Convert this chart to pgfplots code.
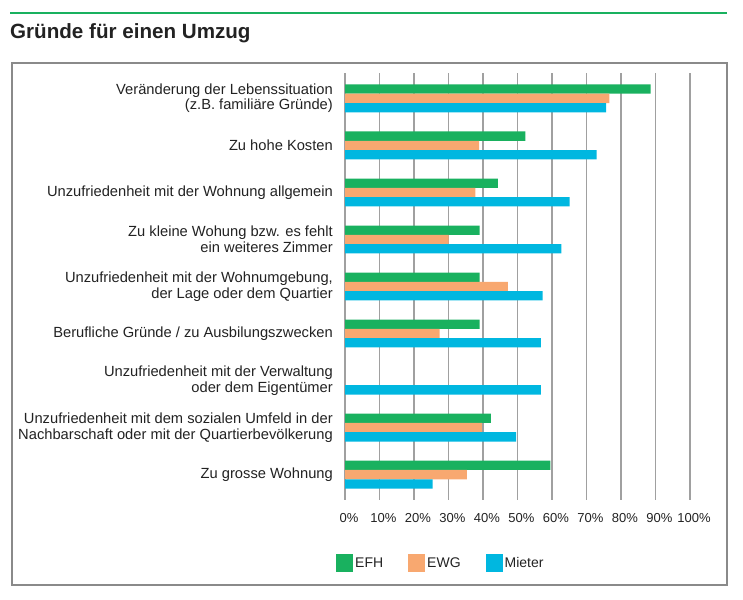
\documentclass[border=0pt]{standalone}
\usepackage{fontspec}
\setmainfont{Liberation Sans}
\usepackage{pgfplots}
\pgfplotsset{compat=1.18}
\definecolor{efh}{HTML}{19B15F}
\definecolor{ewg}{HTML}{F8A870}
\definecolor{mieter}{HTML}{00B7E0}
\definecolor{textc}{HTML}{222222}
\definecolor{boxc}{HTML}{8A8A8A}
\definecolor{gridc}{HTML}{A0A0A0}
\begin{document}
\begin{tikzpicture}
\path[use as bounding box] (0bp,0bp) rectangle (743bp,-600bp);
\draw[efh, line width=2.5bp] (10bp,-13bp) -- (727bp,-13bp);
\node[anchor=west, inner sep=0pt, font=\bfseries\fontsize{20.6bp}{24bp}\selectfont, text=textc] at (10bp,-33bp) {Gründe für einen Umzug};
\draw[boxc, line width=1.2bp] (12bp,-63bp) rectangle (727bp,-585bp);
\begin{axis}[
  at={(345bp,-500bp)}, anchor=south west,
  scale only axis, width=345bp, height=427bp,
  xmin=0, xmax=100, ymin=0.46, ymax=9.54, y dir=reverse,
  xbar=0pt, bar width=9.3bp,
  axis line style={draw=none}, major tick length=0pt, tick style={draw=none},
  xmajorgrids, grid style={gridc, line width=1.2bp},
  xtick={0,10,...,100},
  xticklabel={\pgfmathprintnumber{\tick}\%},
  /pgf/number format/assume math mode=true,
  xticklabel style={font=\fontsize{13bp}{15bp}\selectfont, text=textc, anchor=center, yshift=-18bp, xshift=4bp},
  ytick={1,...,9},
  yticklabels={
    {Veränderung der Lebenssituation\\(z.B. familiäre Gründe)},
    {Zu hohe Kosten},
    {Unzufriedenheit mit der Wohnung allgemein},
    {Zu kleine Wohung bzw. es fehlt\\ein weiteres Zimmer},
    {Unzufriedenheit mit der Wohnumgebung,\\der Lage oder dem Quartier},
    {Berufliche Gründe / zu Ausbilungszwecken},
    {Unzufriedenheit mit der Verwaltung\\oder dem Eigentümer},
    {Unzufriedenheit mit dem sozialen Umfeld in der\\Nachbarschaft oder mit der Quartierbevölkerung},
    {Zu grosse Wohnung}},
  yticklabel style={font=\fontsize{14.7bp}{15.5bp}\selectfont, text=textc, align=right, anchor=east, inner sep=0pt, xshift=-12bp},
  legend style={at={(-0.026,-0.1475)}, anchor=west, legend columns=3, draw=none, fill=none, inner sep=0pt,
    font=\fontsize{14bp}{16bp}\selectfont, text=textc,
    /tikz/every even column/.append style={column sep=23bp}},
  legend image code/.code={\fill[#1] (0bp,-8.5bp) rectangle (17bp,8.5bp);},
]
\addplot[draw=none, fill=efh, bar shift=9.3bp] coordinates {(88.6,1) (52.3,2) (44.3,3) (39,4) (39,5) (39,6) (42.3,8) (59.5,9)};
\addplot[draw=none, fill=ewg, bar shift=0bp] coordinates {(76.6,1) (38.9,2) (37.8,3) (30,4) (47.2,5) (27.4,6) (39.7,8) (35.3,9)};
\addplot[draw=none, fill=mieter, bar shift=-9.3bp] coordinates {(75.7,1) (72.9,2) (65.1,3) (62.7,4) (57.3,5) (56.8,6) (56.8,7) (49.6,8) (25.4,9)};
\legend{EFH, EWG, Mieter}
\end{axis}
\end{tikzpicture}
\end{document}
